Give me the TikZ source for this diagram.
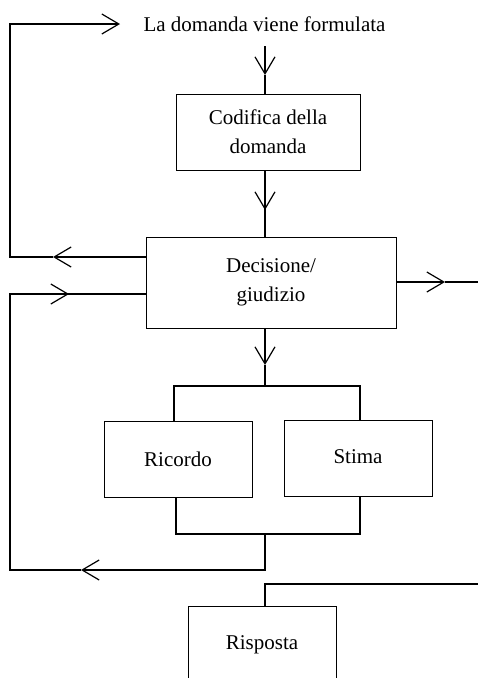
\documentclass[tikz,border=0pt]{standalone}
\usepackage{fontspec}
\setmainfont{Liberation Serif}
\usetikzlibrary{arrows.meta}
\begin{document}
\begin{tikzpicture}[x=1pt,y=-1pt,
  box/.style={draw,line width=1pt,rectangle,inner sep=0pt,align=center,
    font=\fontsize{21}{29}\selectfont},
  conn/.style={line width=1.3pt,line join=miter},
  tip/.style={conn,-{Straight Barb[length=17pt,width=20pt,line width=1.2pt]}},
  lbl/.style={font=\fontsize{21}{29}\selectfont,inner sep=0pt}]
\useasboundingbox (0,0) rectangle (478,678);
\clip (0,0) rectangle (478,678);

% boxes
\node[lbl,anchor=base] (ask) at (264.5,31.5) {La domanda viene formulata};
\node[box,minimum width=184pt,minimum height=76pt] (cod) at (268,132) {Codifica della\\domanda};
\node[box,minimum width=250pt,minimum height=91pt] (dec) at (271,282.5) {Decisione/\\giudizio};
\node[box,minimum width=148pt,minimum height=76pt] (ric) at (178,459) {Ricordo};
\node[box,minimum width=148pt,minimum height=76pt] (sti) at (358,458) {\raisebox{3pt}{Stima}};
\node[box,minimum width=148pt,minimum height=78pt] (ris) at (262,645) {Risposta};

% helper points
\coordinate (q0) at (265,46);
\coordinate (a1) at (265,75);
\coordinate (a2) at (265,210);
\coordinate (a3) at (265,365);
\coordinate (bar) at (265,386);
\coordinate (bl) at (174,386);
\coordinate (br) at (360,386);
\coordinate (jl) at (176,534);
\coordinate (jr) at (360,534);
\coordinate (jc) at (265,534);
\coordinate (fb) at (265,570);
\coordinate (fbtip) at (81,570);
\coordinate (fbcorner) at (10,570);
\coordinate (intip) at (69,294);
\coordinate (incorner) at (10,294);
\coordinate (outtip) at (53,257);
\coordinate (outcorner) at (10,257);
\coordinate (topcorner) at (10,24);
\coordinate (toptip) at (120,24);
\coordinate (rtip) at (445,282);
\coordinate (rend) at (478,282);
\coordinate (sr) at (478,584);
\coordinate (sc) at (265,584);

% main column
\draw[tip] (q0) -- (a1);
\draw[conn] (a1) -- (a1 |- cod.north);
\draw[conn] (q0 |- cod.south) -- (a2);
\draw[tip] (q0 |- cod.south) -- (a2);
\draw[conn] (a2) -- (a2 |- dec.north);
\draw[tip] (q0 |- dec.south) -- (a3);
\draw[conn] (a3) -- (bar);

% branch to the two boxes
\draw[conn] (bl |- ric.north) -- (bl) -- (br) -- (br |- sti.north);
\draw[conn] (jl |- ric.south) -- (jl) -- (jr) -- (jr |- sti.south);

% feedback to the question
\draw[tip] (outtip -| dec.west) -- (outtip);
\draw[tip] (outtip) -- (outcorner) -- (topcorner) -- (toptip);

% feedback from memory/estimation
\draw[tip] (jc) -- (fb) -- (fbtip);
\draw[conn] (fbtip) -- (fbcorner) -- (incorner) -- (intip);
\draw[tip] (incorner) -- (intip);
\draw[conn] (intip) -- (intip -| dec.west);

% output to the right
\draw[tip] (rtip -| dec.east) -- (rtip);
\draw[conn] (rtip) -- (rend);

% response
\draw[conn] (sr) -- (sc) -- (sc |- ris.north);
\end{tikzpicture}
\end{document}
